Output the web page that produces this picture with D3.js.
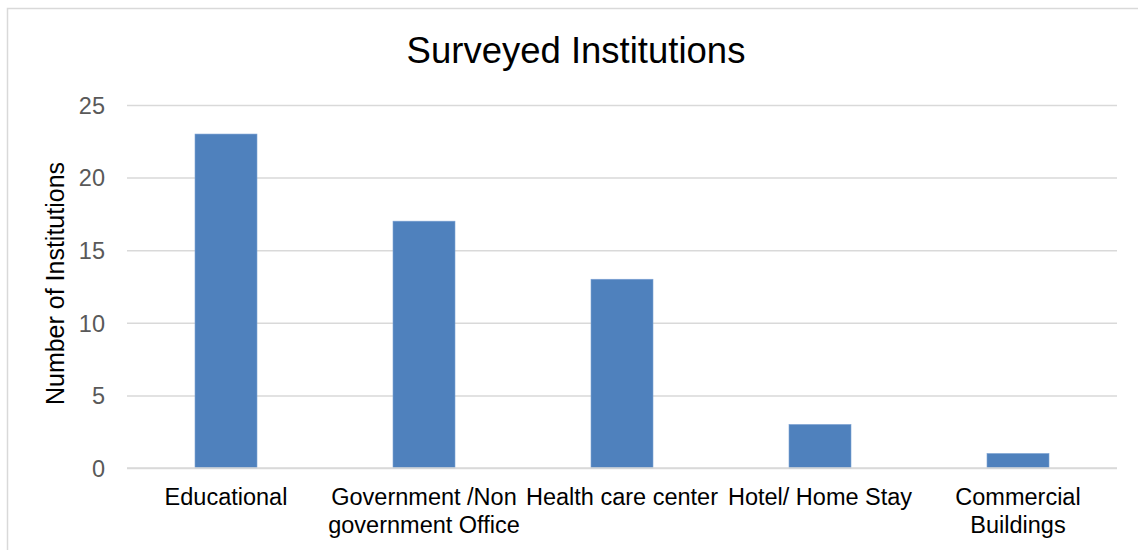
<!DOCTYPE html>
<html>
<head>
<meta charset="utf-8">
<script src="https://cdn.jsdelivr.net/npm/d3@7"></script>
<style>
  html, body { margin: 0; padding: 0; background: #fff; }
  svg { display: block; font-family: "Liberation Sans", Arial, sans-serif; }
</style>
</head>
<body>
<svg id="chart" width="1138" height="550"></svg>
<script>
const categories = [
  ["Educational"],
  ["Government /Non", "government Office"],
  ["Health care center"],
  ["Hotel/ Home Stay"],
  ["Commercial", "Buildings"]
];
const values = [23, 17, 13, 3, 1];
const yTicks = [0, 5, 10, 15, 20, 25];
const title = "Surveyed Institutions";
const yTitle = "Number of Institutions";

const svg = d3.select("#chart");
const W = 1138, H = 550;
const plot = { left: 127, right: 1117, top: 105, bottom: 468 };

// outer frame (cut off on right/bottom as in reference)
svg.append("rect")
  .attr("x", 7.5).attr("y", 8.5)
  .attr("width", 1300).attr("height", 700)
  .attr("fill", "none").attr("stroke", "#d9d9d9").attr("stroke-width", 1.5);

const x = d3.scaleBand()
  .domain(d3.range(categories.length))
  .range([plot.left, plot.right])
  .paddingInner(136 / 198)
  .paddingOuter(68 / 198);

const xCat = d3.scaleBand()
  .domain(d3.range(categories.length))
  .range([plot.left, plot.right]);

const y = d3.scaleLinear().domain([0, 25]).range([plot.bottom, plot.top]);

// gridlines
const yAxis = d3.axisLeft(y).tickValues(yTicks)
  .tickSize(-(plot.right - plot.left)).tickPadding(22);
const gy = svg.append("g").attr("transform", `translate(${plot.left},0)`).call(yAxis);
gy.select(".domain").remove();
gy.selectAll(".tick line").attr("stroke", "#d9d9d9").attr("stroke-width", 1.5);
gy.selectAll(".tick text")
  .attr("fill", "#595959")
  .attr("font-size", "23.5px")
  .attr("font-family", "Liberation Sans, Arial, sans-serif")
  .attr("dy", "0.35em");

// bars
svg.append("g").selectAll("rect")
  .data(values)
  .join("rect")
  .attr("x", (d, i) => x(i))
  .attr("width", x.bandwidth())
  .attr("y", d => y(d))
  .attr("height", d => y(0) - y(d))
  .attr("fill", "#4f81bd")
  .attr("stroke", "#7ea3d4")
  .attr("stroke-width", 0.6);

// baseline on top of bars
svg.append("line")
  .attr("x1", plot.left).attr("x2", plot.right)
  .attr("y1", y(0)).attr("y2", y(0))
  .attr("stroke", "#d9d9d9").attr("stroke-width", 1.5);

// category labels
const cl = svg.append("g").selectAll("text")
  .data(categories)
  .join("text")
  .attr("x", (d, i) => xCat(i) + xCat.bandwidth() / 2)
  .attr("y", 505)
  .attr("text-anchor", "middle")
  .attr("font-size", "23.5px")
  .attr("fill", "#000");
cl.each(function(lines) {
  const t = d3.select(this);
  lines.forEach((ln, j) => {
    t.append("tspan")
      .attr("x", t.attr("x"))
      .attr("dy", j === 0 ? 0 : 28)
      .text(ln);
  });
});

// title
svg.append("text")
  .attr("x", 576).attr("y", 63)
  .attr("text-anchor", "middle")
  .attr("font-size", "36.5px")
  .attr("fill", "#000")
  .text(title);

// y axis title
svg.append("text")
  .attr("transform", `translate(64,${(plot.top + plot.bottom) / 2 - 3}) rotate(-90)`)
  .attr("text-anchor", "middle")
  .attr("font-size", "25px")
  .attr("fill", "#000")
  .text(yTitle);
</script>
</body>
</html>
